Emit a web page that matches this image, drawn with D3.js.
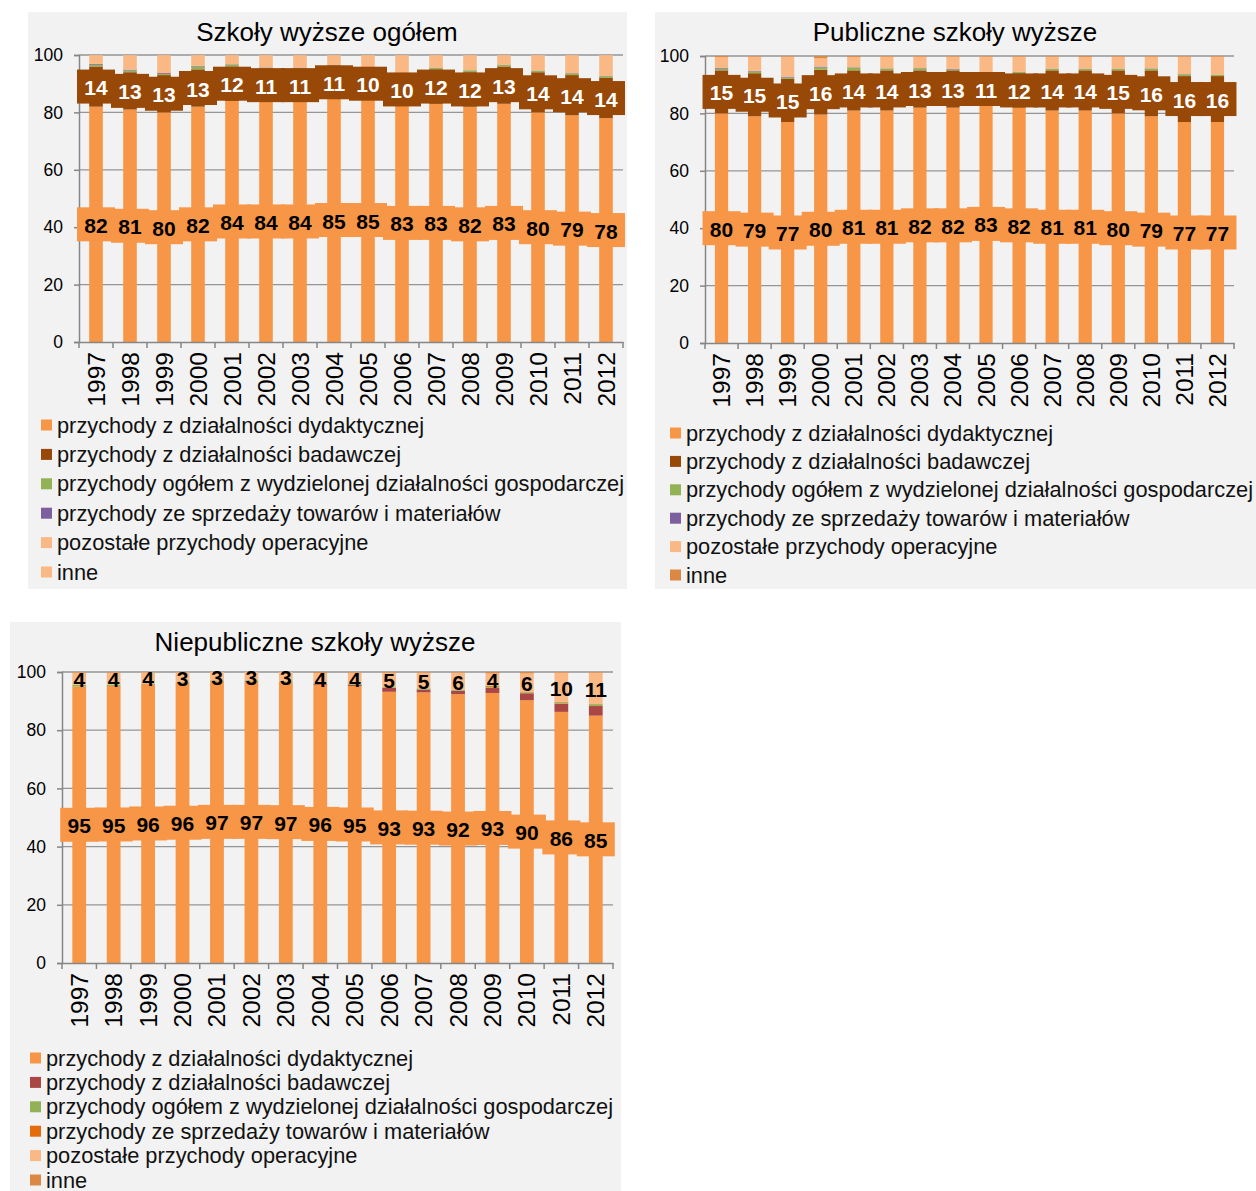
<!DOCTYPE html>
<html><head><meta charset="utf-8">
<script src="https://cdn.jsdelivr.net/npm/d3@7/dist/d3.min.js"></script>
<style>
body{margin:0;background:#fff;}
text{font-family:"Liberation Sans",Arial,sans-serif;}
</style>
</head><body>
<svg id="chart" width="1256" height="1191"></svg>
<script>
const years = ["1997","1998","1999","2000","2001","2002","2003","2004","2005","2006","2007","2008","2009","2010","2011","2012"];
const seriesNames = [
  "przychody z działalności dydaktycznej",
  "przychody z działalności badawczej",
  "przychody ogółem z wydzielonej działalności gospodarczej",
  "przychody ze sprzedaży towarów i materiałów",
  "pozostałe przychody operacyjne",
  "inne"
];
const yTicks = [0, 20, 40, 60, 80, 100];

// Szkoły wyższe ogółem (%)
const ogolDyd  = [82, 81, 80, 82, 84, 84, 84, 85, 85, 83, 83, 82, 83, 80, 79, 78];
const ogolBad  = [14, 13, 13, 13, 12, 11, 11, 11, 10, 10, 12, 12, 13, 14, 14, 14];
const ogolGosp = [0.6, 0.6, 0.4, 1.0, 0.7, 0.6, 0.5, 0.3, 0.4, 0.5, 0.5, 0.6, 0.5, 0.5, 0.6, 0.6];
const ogolSprz = [0.3, 0.3, 0.3, 0.2, 0.1, 0.1, 0.1, 0.2, 0.1, 0.1, 0.1, 0.1, 0.1, 0.1, 0.1, 0.1];
const ogolPoz  = [3.0, 5.0, 6.2, 3.5, 3.1, 4.2, 4.3, 3.4, 4.4, 6.3, 4.3, 5.2, 3.3, 5.3, 6.2, 7.2];
const ogolInne = [0.1, 0.1, 0.1, 0.3, 0.1, 0.1, 0.1, 0.1, 0.1, 0.1, 0.1, 0.1, 0.1, 0.1, 0.1, 0.1];

// Publiczne szkoły wyższe (%)
const publDyd  = [80, 79, 77, 79.6, 81, 81, 82, 82, 83, 82, 81, 81, 80, 79, 77, 77];
const publBad  = [15, 15, 15, 15.6, 14, 14, 13, 13, 11, 12, 14, 14, 15, 16, 16, 16];
const publGosp = [0.6, 0.6, 0.5, 0.8, 1.0, 0.6, 0.7, 0.3, 0.3, 0.4, 0.5, 0.5, 0.5, 0.6, 0.6, 0.4];
const publSprz = [0.3, 0.2, 0.3, 0.3, 0.1, 0.1, 0.1, 0.2, 0.1, 0.1, 0.1, 0.1, 0.1, 0.1, 0.1, 0.1];
const publPoz  = [3.7, 5.0, 7.0, 2.9, 3.6, 4.1, 4.0, 4.3, 5.4, 5.3, 4.2, 4.1, 4.2, 4.1, 6.1, 6.3];
const publInne = [0.4, 0.2, 0.2, 0.8, 0.3, 0.2, 0.2, 0.2, 0.2, 0.2, 0.2, 0.3, 0.2, 0.2, 0.2, 0.2];

// Niepubliczne szkoły wyższe (%)
const niepDyd  = [95.0, 95.2, 95.9, 96.4, 97.0, 97.0, 96.8, 95.6, 95.2, 93.2, 93.0, 92.4, 92.8, 90.3, 86.3, 85.0];
const niepBad  = [0.0, 0.0, 0.0, 0.0, 0.0, 0.0, 0.0, 0.3, 0.4, 1.3, 1.0, 1.2, 1.8, 2.4, 2.8, 3.3];
const niepGosp = [0.6, 0.5, 0.2, 0.2, 0.2, 0.2, 0.2, 0.2, 0.4, 0.3, 0.4, 0.2, 0.3, 0.3, 0.4, 0.6];
const niepSprz = [0.0, 0.0, 0.0, 0.0, 0.0, 0.0, 0.0, 0.0, 0.0, 0.0, 0.0, 0.1, 0.3, 0.1, 0.3, 0.1];
const niepPoz  = [4.2, 4.1, 3.8, 3.3, 2.8, 2.8, 3.0, 3.6, 3.8, 5.0, 5.4, 5.9, 4.3, 6.4, 10.0, 10.8];
const niepInne = [0.2, 0.2, 0.1, 0.1, 0.0, 0.0, 0.0, 0.3, 0.2, 0.2, 0.2, 0.2, 0.5, 0.5, 0.2, 0.2];

const panels = [
  {
    title: "Szkoły wyższe ogółem",
    series: [ogolDyd, ogolBad, ogolGosp, ogolSprz, ogolPoz, ogolInne],
    colors: ["#f79646", "#984807", "#93b255", "#7d5f9f", "#fab984", "#fab984"],
    bg: [28, 12, 599, 577], plot: {l: 79, r: 623, t: 55, b: 342},
    titleX: 327, titleY: 32,
    legend: {x: 41, y: 425, step: 29.4},
    labels: [{s: 0, box: "#f79646", fg: "#000"}, {s: 1, box: "#984807", fg: "#fff"}]
  },
  {
    title: "Publiczne szkoły wyższe",
    series: [publDyd, publBad, publGosp, publSprz, publPoz, publInne],
    colors: ["#f79646", "#984807", "#93b255", "#7d5f9f", "#fab984", "#dc8845"],
    bg: [655, 12, 601, 577], plot: {l: 705, r: 1234, t: 56, b: 343},
    titleX: 955, titleY: 32,
    legend: {x: 670, y: 433, step: 28.4},
    labels: [{s: 0, box: "#f79646", fg: "#000"}, {s: 1, box: "#984807", fg: "#fff"}]
  },
  {
    title: "Niepubliczne szkoły wyższe",
    series: [niepDyd, niepBad, niepGosp, niepSprz, niepPoz, niepInne],
    colors: ["#f79646", "#aa4644", "#93b255", "#e46c0a", "#fab984", "#dc8845"],
    bg: [10, 622, 611, 569], plot: {l: 62, r: 613, t: 672, b: 963},
    titleX: 315, titleY: 642,
    legend: {x: 30, y: 1058, step: 24.4},
    labels: [{s: 0, box: "#f79646", fg: "#000"}, {s: 4, box: null, fg: "#000"}]
  }
];

const svg = d3.select("#chart");

panels.forEach(p => {
  const g = svg.append("g");
  g.append("rect").attr("x", p.bg[0]).attr("y", p.bg[1]).attr("width", p.bg[2]).attr("height", p.bg[3]).attr("fill", "#f2f2f2");

  g.append("text").attr("x", p.titleX).attr("y", p.titleY).attr("text-anchor", "middle")
    .attr("dominant-baseline", "central").attr("font-size", 26).attr("fill", "#000").text(p.title);

  const x = d3.scaleBand().domain(years).range([p.plot.l, p.plot.r]).paddingInner(0.6).paddingOuter(0.3);
  const xb = d3.scaleBand().domain(years).range([p.plot.l, p.plot.r]);
  const y = d3.scaleLinear().domain([0, 100]).range([p.plot.b, p.plot.t]);

  // gridlines
  g.append("g").selectAll("line").data(yTicks.filter(t => t > 0)).join("line")
    .attr("x1", p.plot.l).attr("x2", p.plot.r).attr("y1", d => y(d)).attr("y2", d => y(d))
    .attr("stroke", "#959595").attr("stroke-width", 1.3);

  const rows = years.map((yr, i) => {
    const o = {year: yr};
    p.series.forEach((s, k) => o[k] = s[i]);
    return o;
  });
  const keys = d3.range(p.series.length);
  const stacked = d3.stack().keys(keys)(rows);

  g.append("g").selectAll("g").data(stacked).join("g").attr("fill", d => p.colors[d.key])
    .selectAll("rect").data(d => d).join("rect")
    .attr("x", d => x(d.data.year)).attr("width", x.bandwidth())
    .attr("y", d => y(Math.min(d[1], 100))).attr("height", d => Math.max(0, y(d[0]) - y(Math.min(d[1], 100))));

  // axes
  const ya = d3.axisLeft(y).tickValues(yTicks).tickSize(5).tickPadding(11);
  const yg = g.append("g").attr("transform", `translate(${p.plot.l},0)`).call(ya);
  yg.select(".domain").attr("stroke", "#868686").attr("stroke-width", 1.5);
  yg.selectAll(".tick line").attr("stroke", "#868686").attr("stroke-width", 1.5);
  yg.selectAll(".tick text").attr("font-size", 17.5).attr("fill", "#000").attr("font-family", "Liberation Sans, Arial, sans-serif");

  const xa = d3.axisBottom(xb).tickSize(0).tickFormat(d => d);
  const xg = g.append("g").attr("transform", `translate(0,${p.plot.b})`).call(xa);
  xg.select(".domain").attr("stroke", "#868686").attr("stroke-width", 1.5);
  xg.selectAll(".tick text").attr("font-size", 24.5).attr("fill", "#000")
    .attr("font-family", "Liberation Sans, Arial, sans-serif")
    .attr("text-anchor", "end").attr("dy", null).attr("y", 0)
    .attr("dominant-baseline", "central")
    .attr("transform", "translate(0,10) rotate(-90)");
  // category separator ticks
  g.append("g").selectAll("line").data(years.concat(["__end"])).join("line")
    .attr("x1", (d, i) => p.plot.l + i * xb.step()).attr("x2", (d, i) => p.plot.l + i * xb.step())
    .attr("y1", p.plot.b).attr("y2", p.plot.b + 6).attr("stroke", "#868686").attr("stroke-width", 1.5);

  // data labels
  p.labels.forEach(L => {
    const layer = stacked[L.s];
    const lg = g.append("g");
    if (L.box) {
      lg.selectAll("rect").data(layer).join("rect")
        .attr("x", d => x(d.data.year) + x.bandwidth() / 2 - 19)
        .attr("y", d => y((d[0] + d[1]) / 2) - 17)
        .attr("width", 38).attr("height", 34).attr("fill", L.box);
    }
    lg.selectAll("text").data(layer).join("text")
      .attr("x", d => x(d.data.year) + x.bandwidth() / 2)
      .attr("y", d => y((d[0] + d[1]) / 2) + 1)
      .attr("text-anchor", "middle").attr("dominant-baseline", "central")
      .attr("font-size", 21).attr("font-weight", "bold").attr("fill", L.fg)
      .text(d => d3.format(".0f")(d[1] - d[0]));
  });

  // legend
  const lg = g.append("g");
  seriesNames.forEach((n, k) => {
    const cy = p.legend.y + k * p.legend.step;
    lg.append("rect").attr("x", p.legend.x).attr("y", cy - 5.5).attr("width", 11).attr("height", 11).attr("fill", p.colors[k]);
    lg.append("text").attr("x", p.legend.x + 16).attr("y", cy).attr("dominant-baseline", "central")
      .attr("font-size", 21.8).attr("fill", "#111").text(n);
  });
});
</script>
</body></html>
